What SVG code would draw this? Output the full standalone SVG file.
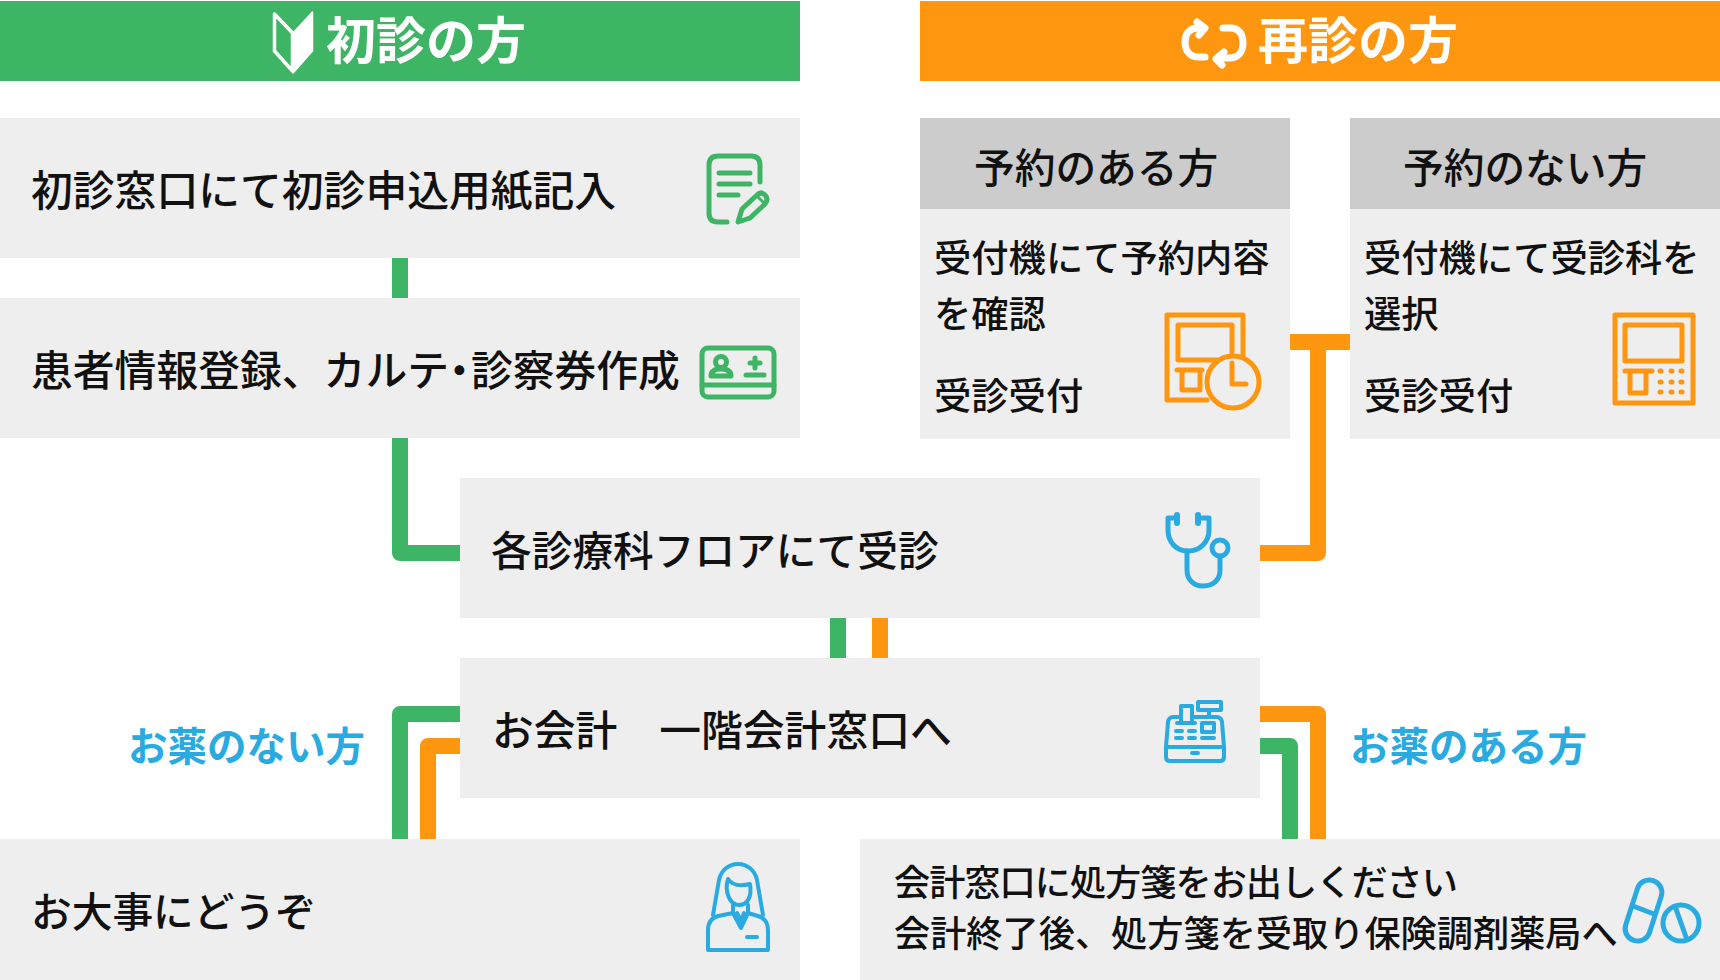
<svg xmlns="http://www.w3.org/2000/svg" width="1720" height="980" viewBox="0 0 1720 980">
<style>
text{font-family:"Noto Sans CJK JP","Noto Sans",sans-serif;font-weight:500;font-size:41.800px;fill:#111}
.box{fill:#eee}.head{fill:#ccc}
.hd{font-size:50px;font-weight:700;fill:#fff}
.small{font-size:37.300px}.sm2{font-size:36.200px}
.blue{font-size:39.500px;font-weight:700;fill:#29abe2}
.sub{font-size:40.700px}
.palt{font-feature-settings:"palt"}
.c{fill:none;stroke-width:16}
.g{stroke:#3eb564}.o{stroke:#ff960f}.b{stroke:#29abe2}
.i{fill:none;stroke-width:5;stroke-linecap:round;stroke-linejoin:round}
.i4{stroke-width:4}
.w{fill:none;stroke:#fff;stroke-width:7;stroke-linecap:round;stroke-linejoin:round}
</style>
<g id="connectors">
<path class="c g" d="M400 258V298"/>
<path class="c g" d="M400 438V553H460" stroke-linejoin="round"/>
<path class="c o" d="M1290 342H1350"/>
<path class="c o" d="M1318 342V553H1260" stroke-linejoin="round"/>
<path class="c g" d="M838 618V658"/>
<path class="c o" d="M880 618V658"/>
<path class="c g" d="M400 839V714H460" stroke-linejoin="round"/>
<path class="c o" d="M428 839V746H460" stroke-linejoin="round"/>
<path class="c o" d="M1318 839V714H1260" stroke-linejoin="round"/>
<path class="c g" d="M1290 839V746H1260" stroke-linejoin="round"/>
</g>
<g id="header-first">
<rect x="0" y="1" width="800" height="80" fill="#3eb564"/>
<path d="M274.500 14L292.500 33V71L274.500 51Z" fill="none" stroke="#fff" stroke-width="3.500" stroke-linejoin="round"/>
<path d="M312.500 12V51L293 73V33Z" fill="#fff" stroke="#fff" stroke-width="1.500" stroke-linejoin="round"/>
<text class="hd" x="326" y="59">初診の方</text>
</g>
<g id="header-return">
<rect x="920" y="1" width="800" height="80" fill="#ff960f"/>
<path class="w" d="M1203 28H1198C1189 28 1185 34 1185 42C1185 51 1190 57 1199 57H1205"/>
<path class="w" d="M1197 22L1205 28L1199 35"/>
<path class="w" d="M1223 28H1230C1239 28 1243 34 1243 43C1243 52 1238 58 1229 58H1218"/>
<path class="w" d="M1224 52L1216 59L1222 65"/>
<text class="hd" x="1258" y="59">再診の方</text>
</g>
<g id="node-application">
<rect class="box" x="0" y="118" width="800" height="140"/>
<text x="31" y="206">初診窓口にて初診申込用紙記入</text>
<g class="i g">
<path d="M727 222H718Q709 222 709 213V165Q709 156 718 156H751Q760 156 760 165V182"/>
<path d="M719 173H750M719 184H750M719 195H738"/>
<path d="M738 222L742 209L757 195Q761 191 765 195Q769 199 765 204L750 218Z"/>
<path d="M757 196L763 202" stroke-width="3"/>
</g>
</g>
<g id="node-registration">
<rect class="box" x="0" y="298" width="800" height="140"/>
<text x="31" y="386">患者情報登録、カルテ<tspan class="palt">・</tspan><tspan dx="1">診察券作成</tspan></text>
<g class="i g">
<rect x="702" y="348" width="72" height="49" rx="6"/>
<path d="M702 385H774"/>
<circle cx="721" cy="362" r="5.500"/>
<path d="M711 376Q711 369 721 369Q731 369 731 376Z"/>
<path d="M755 358V368M750 363H760M746 375H764"/>
</g>
</g>
<g id="node-reserved">
<rect class="box" x="920" y="209" width="370" height="230"/>
<rect class="head" x="920" y="118" width="370" height="91"/>
<text class="sub" x="974" y="183">予約のある方</text>
<text class="small" x="934" y="272">受付機にて予約内容</text>
<text class="small" x="934" y="328">を確認</text>
<text class="small" x="934" y="410">受診受付</text>
<g class="i o">
<path d="M1207 400H1167V315H1243V355"/>
<path d="M1217 360H1178V325H1232V352"/>
<path d="M1177 370H1202M1182 370V390H1200V370"/>
<circle cx="1233" cy="382" r="26"/>
<path d="M1232 363V384H1246"/>
</g>
</g>
<g id="node-unreserved">
<rect class="box" x="1350" y="209" width="370" height="230"/>
<rect class="head" x="1350" y="118" width="370" height="91"/>
<text class="sub" x="1403" y="183">予約のない方</text>
<text class="small" x="1364" y="272">受付機にて受診科を</text>
<text class="small" x="1364" y="328">選択</text>
<text class="small" x="1364" y="410">受診受付</text>
<g class="i o">
<rect x="1615" y="315" width="78" height="88"/>
<rect x="1625" y="325" width="57" height="36"/>
<path d="M1625 371H1652M1630 371V393H1646V371"/>
<path d="M1660 371h1M1671 371h1M1681 371h1M1660 382h1M1671 382h1M1681 382h1M1660 392h1M1671 392h1M1681 392h1"/>
</g>
</g>
<g id="node-consultation">
<rect class="box" x="460" y="478" width="800" height="140"/>
<text class="sub" x="491" y="566">各診療科フロアにて受診</text>
<g class="i b">
<path d="M1177 518H1168V530C1168 542 1176 551 1188 551C1200 551 1209 542 1209 530V518H1198"/>
<path d="M1177 515V523M1198 515V523" stroke-width="6"/>
<path d="M1187 551V570C1187 580 1194 586 1203 586C1213 586 1220 580 1220 570V556"/>
<circle cx="1220" cy="548" r="8"/>
</g>
</g>
<g id="node-payment">
<rect class="box" x="460" y="658" width="800" height="140"/>
<text x="492" y="746" xml:space="preserve">お会計　一階会計窓口へ</text>
<g class="i i4 b">
<path d="M1181 723V706H1192V723M1177 723H1195"/>
<rect x="1198" y="702" width="23" height="8"/>
<path d="M1209 710V717M1181 717H1173Q1169 717 1168 722L1166 747V757Q1166 761 1170 761H1220Q1224 761 1224 757V747L1222 722Q1221 717 1217 717H1192M1166 747H1224"/>
<rect x="1202" y="723" width="12" height="9"/>
<path d="M1176 731H1182M1189 731H1195M1176 738H1182M1189 738H1195M1202 738H1214M1192 753H1198"/>
</g>
</g>
<g id="node-farewell">
<rect class="box" x="0" y="839" width="800" height="141"/>
<text class="sub" x="31" y="927">お大事にどうぞ</text>
<g class="i i4 b">
<path d="M713 915L719 880C721 870 729 864 738 864C747 864 755 870 757 880L763 915"/>
<path d="M728 879Q734 888 750 884C752 896 748 905 739 905C730 905 724 892 728 879Z"/>
<path d="M733 905V913L741 928L748 913V905M733 913L718 916Q708 919 708 930V950H768V930Q768 919 758 916L748 913"/>
<path d="M737 913L741 921L744 913"/>
<path d="M747 937H757"/>
</g>
</g>
<g id="node-prescription">
<rect class="box" x="860" y="839" width="860" height="141"/>
<text class="sm2" x="894" y="896" letter-spacing="-1">会計窓口に処方箋をお出しください</text>
<text class="sm2" x="894" y="947">会計終了後、処方箋を受取り保険調剤薬局へ</text>
<g class="i b">
<rect x="1631" y="879" width="25" height="63" rx="12.500" transform="rotate(18 1643.500 910.500)"/>
<path d="M1633 906L1654 914"/>
<circle cx="1681" cy="923" r="18"/>
<path d="M1676 909L1686 937"/>
</g>
</g>
<g id="labels">
<text class="blue" x="128" y="761">お薬のない方</text>
<text class="blue" x="1350" y="761">お薬のある方</text>
</g>
</svg>
